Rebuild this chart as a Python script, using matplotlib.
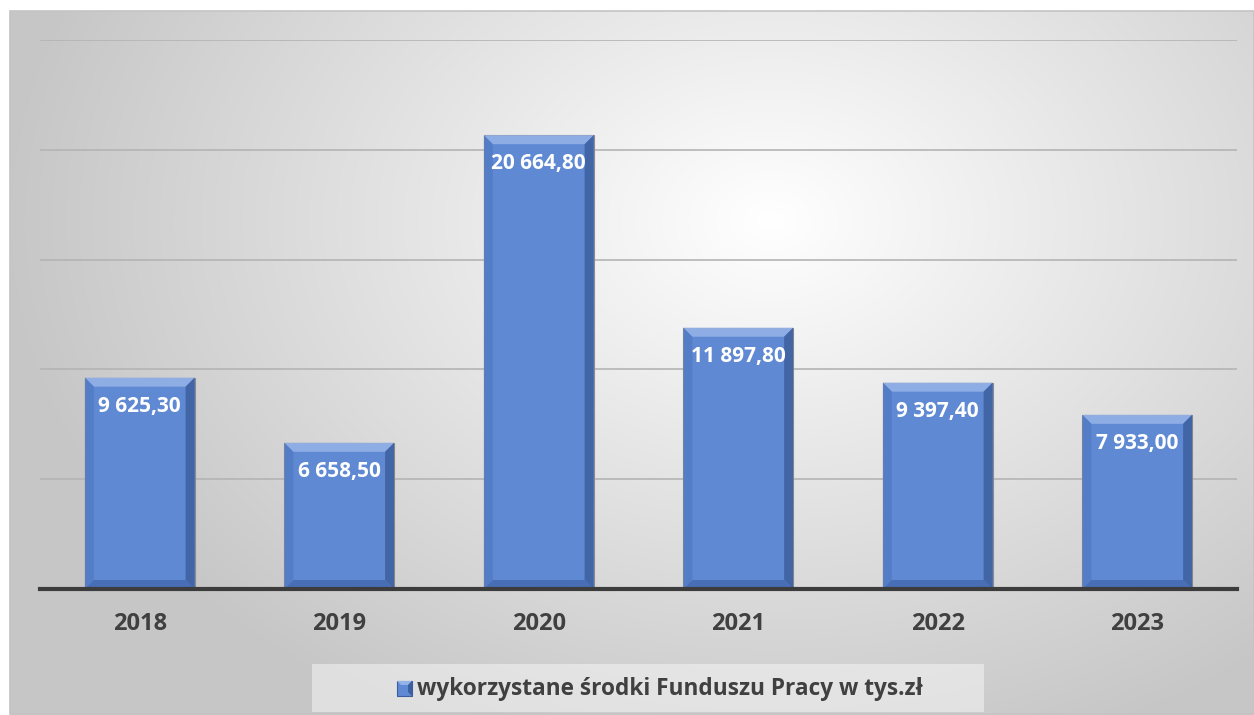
import numpy as np
import matplotlib.pyplot as plt
from matplotlib.patches import Polygon, Rectangle

# dane z wykresu
years = ["2018", "2019", "2020", "2021", "2022", "2023"]
values = [9625.30, 6658.50, 20664.80, 11897.80, 9397.40, 7933.00]
value_labels = ["9 625,30", "6 658,50", "20 664,80", "11 897,80", "9 397,40", "7 933,00"]
legend_label = "wykorzystane środki Funduszu Pracy w tys.zł"

bar_color = "#5F89D3"
font = ["Open Sans", "DejaVu Sans"]

fig = plt.figure(figsize=(12.54, 7.15), dpi=100)
W, H = 1254, 715

# tlo z gradientem radialnym
bg = fig.add_axes([0, 0, 1, 1], zorder=0)
yy, xx = np.mgrid[0:H, 0:W]
d = np.sqrt(((xx - 770) / 760.0) ** 2 + ((yy - 220) / 560.0) ** 2)
g = np.clip(1.0 - 0.22 * d, 0.78, 1.0)
img = np.dstack([g, g, g])
# biale marginesy poza ramka wykresu
img[:11, :, :] = 1.0
img[:, :10, :] = 1.0
bg.imshow(img, extent=[0, W, H, 0], aspect="auto", interpolation="bilinear")
bg.add_patch(Rectangle((10, 11), W - 10, H - 12, fill=False, ec="#c4c4c4", lw=1.2))
# pole legendy
bg.add_patch(Rectangle((312, 664), 672, 48, fc="#f8f8f8", ec="none", alpha=0.5))
bg.set_xlim(0, W)
bg.set_ylim(H, 0)
bg.axis("off")

ax = fig.add_axes([40 / W, 1 - 589 / H, 1197 / W, 549 / H], zorder=1)
ax.patch.set_alpha(0)
x = np.arange(len(years))
bars = ax.bar(x, values, width=0.55, color=bar_color, edgecolor="#8a8a8a", linewidth=0.8, zorder=3)
ax.set_xlim(-0.5, len(years) - 0.5)
ax.set_ylim(0, 25000)
ax.set_yticks(np.arange(0, 25001, 5000))
ax.yaxis.grid(True, color="#b4b4b4", lw=1.2, zorder=0)
ax.tick_params(axis="y", left=False, labelleft=False)
ax.tick_params(axis="x", bottom=False, pad=13)
ax.set_xticks(x)
ax.set_xticklabels(years, fontsize=17, fontweight="bold", color="#404040", family=font)
for s in ["top", "right", "left"]:
    ax.spines[s].set_visible(False)
ax.spines["bottom"].set_color("#3c3c3c")
ax.spines["bottom"].set_linewidth(3)
ax.spines["bottom"].set_zorder(5)

# efekt fazowania na slupkach (w pikselach, z pozycji slupkow)
fig.canvas.draw()
trans = ax.transData
inv = ax.transData.inverted()
bev = 9
for b in bars:
    x0, y0 = trans.transform((b.get_x(), 0))
    x1, y1 = trans.transform((b.get_x() + b.get_width(), b.get_height()))
    faces = [
        ([(x0, y1), (x1, y1), (x1 - bev, y1 - bev), (x0 + bev, y1 - bev)], "#94b2e8", 0.9),
        ([(x0, y0), (x0, y1), (x0 + bev, y1 - bev), (x0 + bev, y0 + bev)], "#5079c2", 0.7),
        ([(x1, y0), (x1, y1), (x1 - bev, y1 - bev), (x1 - bev, y0 + bev)], "#3d5f9f", 0.85),
        ([(x0, y0), (x1, y0), (x1 - bev, y0 + bev), (x0 + bev, y0 + bev)], "#4368ae", 0.8),
    ]
    for pts, c, a in faces:
        ax.add_patch(Polygon(inv.transform(pts), closed=True, fc=c, ec="none", alpha=a, zorder=4))

for xi, v, lab in zip(x, values, value_labels):
    ax.annotate(lab, (xi, v), xytext=(0, -13), textcoords="offset points",
                ha="center", va="top", color="white", fontsize=15, fontweight="bold",
                family=font, zorder=6)

# legenda
fig.text(417 / W, 1 - 689 / H, legend_label, fontsize=16.3, fontweight="bold",
         color="#404040", family=font, va="center", ha="left")
lx, ly, ls = 397, 681, 15
bg.add_patch(Rectangle((lx, ly), ls, ls, fc=bar_color, ec="#3c5e9e", lw=0.8, zorder=3))
bg.add_patch(Polygon([(lx, ly), (lx + ls, ly), (lx + ls - 4, ly + 4), (lx + 4, ly + 4)],
                     fc="#94b2e8", ec="none", zorder=4))
bg.add_patch(Polygon([(lx + ls, ly), (lx + ls, ly + ls), (lx + ls - 4, ly + ls - 4), (lx + ls - 4, ly + 4)],
                     fc="#3d5f9f", ec="none", zorder=4))

fig.savefig("out.png", dpi=100)
